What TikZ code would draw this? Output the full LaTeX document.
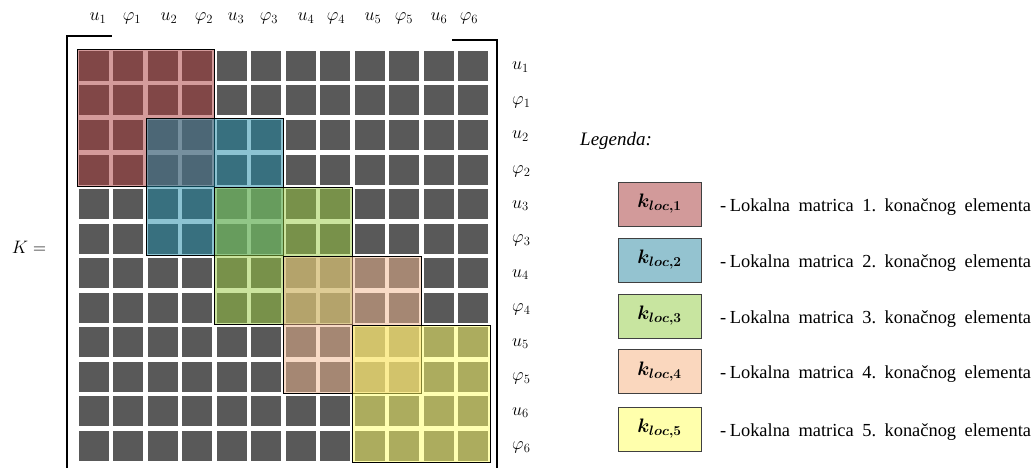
\RequirePackage{fix-cm}
\documentclass[tikz,border=0pt]{standalone}
\usepackage{fontspec}
\setmainfont{Liberation Serif}
\definecolor{cellgray}{RGB}{89,89,89}
% element block tints (laid over the grid at half opacity)
\definecolor{blkA}{RGB}{169,55,55}
\definecolor{blkB}{RGB}{25,135,165}
\definecolor{blkC}{RGB}{151,201,61}
\definecolor{blkD}{RGB}{241,181,141}
\definecolor{blkE}{RGB}{255,255,100}
% legend swatches
\definecolor{legA}{RGB}{210,154,154}
\definecolor{legB}{RGB}{148,195,208}
\definecolor{legC}{RGB}{200,229,160}
\definecolor{legD}{RGB}{250,215,190}
\definecolor{legE}{RGB}{255,255,172}
\newcommand\widespaces{\frenchspacing\spaceskip=8.5pt plus 1pt\relax}
\begin{document}
\begin{tikzpicture}[x=1pt,y=-1pt,
  elemblk/.style={fill=#1, fill opacity=0.5, draw=black, line width=0.8pt},
  dofhead/.style={inner sep=0pt, font=\fontsize{18}{20}\selectfont},
  bracket/.style={line width=1.8pt, line cap=rect},
  legbox/.style={draw=black!75, line width=0.8pt, minimum width=83pt, minimum height=44pt,
                 inner sep=0pt, font=\fontsize{19.5}{21}\selectfont\boldmath},
  legtext/.style={anchor=base west, inner sep=0pt, font=\fontsize{18.4}{20}\selectfont}]
\useasboundingbox (0,0) rectangle (1035,468);
\def\px{34.45}
\def\py{34.5}

% 12 x 12 grid of matrix entries
\foreach \r in {0,...,11}
  \foreach \c in {0,...,11}
    \fill[cellgray] ({79+\px*\c},{51+\py*\r}) rectangle ++(30,30);

% local element matrices, each covering 4 x 4 entries
\foreach \k/\col in {0/blkA,1/blkB,2/blkC,3/blkD,4/blkE}
  \path[elemblk=\col] ({77+\px*2*\k},{49+\py*2*\k})
        rectangle ({79+\px*(2*\k+3)+32},{51+\py*(2*\k+3)+32});

% matrix brackets
\draw[bracket] (111,36) -- (67,36) -- (67,470);
\draw[bracket] (453,40) -- (497,40) -- (497,470);

% degrees of freedom: column headings and row headings
\foreach \c/\xc/\t in {0/98/u_1,1/132/\varphi_1,2/169/u_2,3/204/\varphi_2,
                       4/236/u_3,5/269/\varphi_3,6/306/u_4,7/336/\varphi_4,
                       8/373/u_5,9/404/\varphi_5,10/439/u_6,11/469/\varphi_6}
  \node[dofhead, anchor=base] (col\c) at (\xc,21) {$\t$};
\foreach \r/\t in {0/u_1,1/\varphi_1,2/u_2,3/\varphi_2,4/u_3,5/\varphi_3,
                   6/u_4,7/\varphi_4,8/u_5,9/\varphi_5,10/u_6,11/\varphi_6}
  \node[dofhead, anchor=base west] (row\r) at (512,{70+\py*\r}) {$\t$};

\node[inner sep=0pt, font=\fontsize{18}{20}\selectfont] (K) at (29,247) {$K =$};

% legend
\node[anchor=base west, inner sep=0pt, font=\fontsize{19}{21}\selectfont\itshape]
  (legtitle) at (580,145) {Legenda:};
\foreach \i/\yc/\col in {1/204/legA,2/260/legB,3/316/legC,4/371.5/legD,5/429/legE}{
  \node[legbox, fill=\col] (key\i) at (659.5,\yc) {$k_{loc,\i}$};
  \node[legtext] (desc\i) at (720,\yc+7)
    {\widespaces -\hspace{3.5pt}Lokalna matrica \i. konačnog elementa};
}
\end{tikzpicture}
\end{document}
